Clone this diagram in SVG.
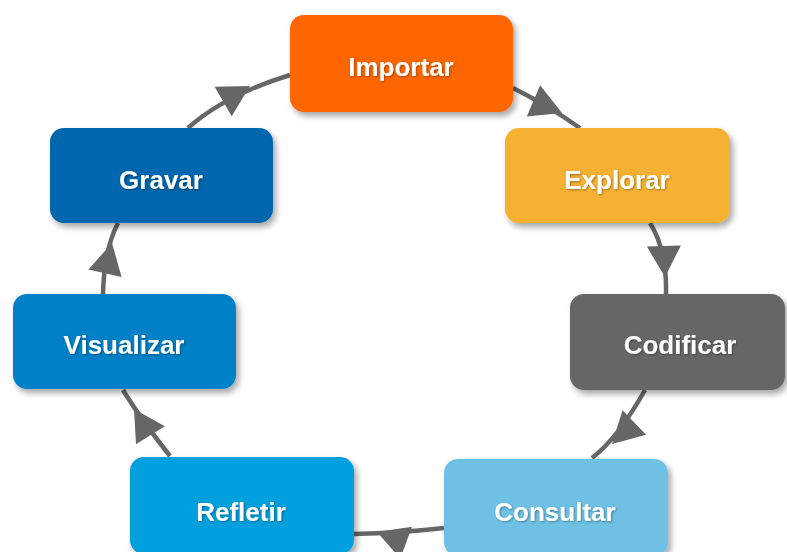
<svg xmlns="http://www.w3.org/2000/svg" xmlns:xlink="http://www.w3.org/1999/xlink" width="787" height="552" viewBox="0 0 787 552">
<style>
.box{filter:url(#sh)}
.lbl{font-family:"Liberation Sans",Arial,sans-serif;font-weight:bold;font-size:26px;fill:#ffffff;text-anchor:middle;filter:url(#tsh)}
.con{fill:none;stroke:#666666;stroke-width:4.5}
.ah{fill:#666666}
</style>
<defs>
<filter id="sh" x="-10%" y="-10%" width="130%" height="140%">
<feDropShadow dx="3" dy="4" stdDeviation="3" flood-color="#000000" flood-opacity="0.35"/>
</filter>
<filter id="tsh" x="-10%" y="-20%" width="130%" height="150%">
<feDropShadow dx="1" dy="1" stdDeviation="0.8" flood-color="#000000" flood-opacity="0.35"/>
</filter>
<path id="ah" d="M0,0 L-31,-17 L-31,17 Z"/>
</defs>
<rect width="787" height="552" fill="#ffffff"/>
<g id="connectors">
<path class="con" d="M188,128 Q225,95 290,75"/>
<use class="ah" xlink:href="#ah" href="#ah" transform="translate(250,86) rotate(-30)"/>
<path class="con" d="M513,88 Q549,106 580,128"/>
<use class="ah" xlink:href="#ah" href="#ah" transform="translate(562,113) rotate(23)"/>
<path class="con" d="M650,223 Q667,250 666,294"/>
<use class="ah" xlink:href="#ah" href="#ah" transform="translate(665,277) rotate(88)"/>
<path class="con" d="M645,390 Q618,438 592,458"/>
<use class="ah" xlink:href="#ah" href="#ah" transform="translate(612,444) rotate(136)"/>
<path class="con" d="M444,528 Q400,533 353,534"/>
<use class="ah" xlink:href="#ah" href="#ah" transform="translate(377,532) rotate(200)"/>
<path class="con" d="M170,456 Q140,418 123,390"/>
<use class="ah" xlink:href="#ah" href="#ah" transform="translate(134,409) rotate(-122)"/>
<path class="con" d="M103,294 Q104,250 118,223"/>
<use class="ah" xlink:href="#ah" href="#ah" transform="translate(112,243) rotate(-77)"/>
</g>
<g id="importar">
<rect class="box" x="290" y="15" width="223" height="97" rx="14" fill="#FF6600"/>
<text class="lbl" x="401" y="76">Importar</text>
</g>
<g id="explorar">
<rect class="box" x="505" y="128" width="225" height="95" rx="14" fill="#F7B133"/>
<text class="lbl" x="617" y="189">Explorar</text>
</g>
<g id="codificar">
<rect class="box" x="570" y="294" width="215" height="96" rx="14" fill="#666666"/>
<text class="lbl" x="680" y="354">Codificar</text>
</g>
<g id="consultar">
<rect class="box" x="444" y="459" width="224" height="97" rx="14" fill="#6EC1E4"/>
<text class="lbl" x="555" y="521">Consultar</text>
</g>
<g id="refletir">
<rect class="box" x="130" y="457" width="224" height="97" rx="14" fill="#009FDD"/>
<text class="lbl" x="241" y="521">Refletir</text>
</g>
<g id="visualizar">
<rect class="box" x="13" y="294" width="223" height="95" rx="14" fill="#0080C6"/>
<text class="lbl" x="124" y="354">Visualizar</text>
</g>
<g id="gravar">
<rect class="box" x="50" y="128" width="223" height="95" rx="14" fill="#0066AD"/>
<text class="lbl" x="161" y="189">Gravar</text>
</g>
</svg>
